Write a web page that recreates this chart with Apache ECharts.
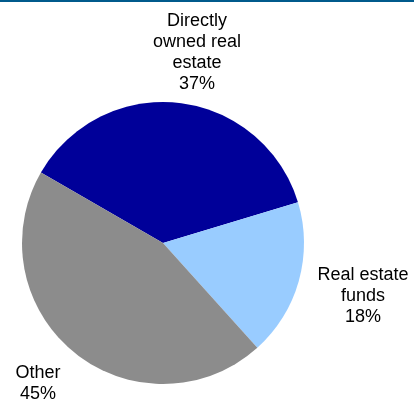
<!DOCTYPE html>
<html>
<head>
<meta charset="utf-8">
<style>
  html, body { margin: 0; padding: 0; background: #ffffff; }
  #chart { width: 415px; height: 401px; }
</style>
<script src="https://cdn.jsdelivr.net/npm/echarts@6/dist/echarts.min.js"></script>
</head>
<body>
<div id="chart"></div>
<script>
// Allocation shares (percent)
const categories = ['Directly\nowned real\nestate', 'Real estate\nfunds', 'Other'];
const shares = [37, 18, 45];
const sliceColors = ['#000099', '#99CCFF', '#8C8C8C'];

// Label anchor points (centre of each text block)
const labelAnchors = [[197, 53], [363, 296], [38, 384]];

const chart = echarts.init(document.getElementById('chart'), null, { renderer: 'canvas' });

chart.setOption({
  animation: false,
  backgroundColor: '#ffffff',
  graphic: [{
    type: 'rect',
    shape: { x: 0, y: 0, width: 414, height: 2 },
    style: { fill: '#005A8C' },
    silent: true
  }],
  series: [{
    type: 'pie',
    center: [163, 243],
    radius: 141,
    startAngle: 150,
    clockwise: true,
    silent: true,
    itemStyle: { borderWidth: 0 },
    label: {
      show: true,
      position: 'outside',
      formatter: p => p.name + '\n' + p.value + '%',
      fontFamily: 'Liberation Sans, Arial, sans-serif',
      fontSize: 18,
      lineHeight: 21,
      color: '#000000',
      align: 'center',
      overflow: 'none'
    },
    labelLine: { show: false },
    labelLayout: params => {
      const a = labelAnchors[params.dataIndex];
      return { x: a[0], y: a[1], align: 'center', verticalAlign: 'middle', width: 200 };
    },
    data: categories.map((c, i) => ({
      name: c,
      value: shares[i],
      itemStyle: { color: sliceColors[i] }
    }))
  }]
});
</script>
</body>
</html>
